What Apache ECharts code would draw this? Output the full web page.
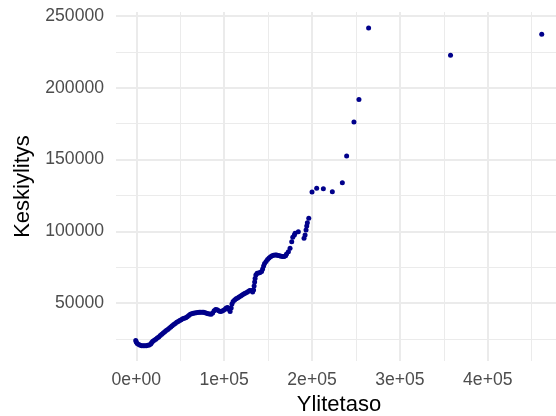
<!DOCTYPE html>
<html>
<head>
<meta charset="utf-8">
<script src="https://cdn.jsdelivr.net/npm/echarts@6/dist/echarts.min.js"></script>
<style>
  html, body { margin: 0; padding: 0; background: #ffffff; overflow: hidden; }
  /* the plot panel runs a little past the right edge of the page */
  #chart { width: 562px; height: 416px; }
</style>
</head>
<body>
<div id="chart"></div>
<script>
// Threshold level (x) and mean excess (y)
const ylitetaso = [
  -600, 0, 1100, 2800, 4500, 6300, 8000, 9700, 11400, 13100,
  14800, 16500, 17600, 18800, 20500, 22200, 23900, 25600, 27300, 29000,
  30700, 32400, 34100, 35800, 37500, 39200, 40900, 42600, 44300, 46000,
  47700, 49400, 51100, 52800, 54500, 56300, 58000, 59700, 61400, 63100,
  64800, 66500, 68200, 69900, 71600, 73300, 75000, 76700, 78400, 80100,
  81800, 83500, 85200, 86900, 88600, 90300, 92000, 93800, 95500, 97200,
  98900, 100600, 102300, 104000, 105700, 106800, 108000, 108900, 110200, 111900,
  113600, 115300, 117000, 118800, 120500, 122200, 123900, 125600, 127300, 129000,
  130700, 132400, 133500, 134100, 134700, 135200, 136100, 137500, 139200, 140900,
  142600, 143800, 144900, 146000, 147700, 149400, 151100, 152800, 154600, 156300,
  158000, 159700, 161400, 163100, 164800, 166500, 168200, 169900, 171000, 173100,
  175000, 176900, 178100, 179900, 180700, 184400, 190900, 192100, 193200, 194000,
  194700, 196300, 200000, 205300, 212900, 223100, 234500, 239400, 247700, 253400,
  264400, 357600, 461400
];
const keskiylitys = [
  23900, 22800, 21800, 21100, 20500, 20200, 20200, 20200, 20300, 20500,
  20700, 21400, 22500, 23300, 24000, 24700, 25600, 26400, 27400, 28200,
  29100, 29900, 30800, 31600, 32400, 33300, 34100, 35000, 35800, 36600,
  37200, 37900, 38400, 39000, 39400, 39800, 40400, 41300, 42100, 42600,
  42900, 43100, 43200, 43400, 43500, 43500, 43600, 43500, 43200, 42900,
  42600, 42300, 42100, 43000, 44600, 45500, 45300, 44600, 44100, 44300,
  44800, 45500, 46500, 46900, 45500, 44100, 46500, 49300, 51000, 52100,
  52900, 53500, 54200, 54900, 55600, 56300, 56800, 57300, 58000, 58700,
  58700, 57700, 59100, 61800, 64600, 67100, 69500, 70700, 70900, 71300,
  72000, 73700, 75800, 77500, 78900, 80300, 81400, 82200, 82900, 83300,
  83500, 83500, 83200, 82900, 82600, 82400, 82400, 82900, 84200, 85800,
  88100, 92700, 95800, 97400, 98700, 99700, 95100, 97400, 100900, 103700,
  106000, 109000, 127400, 129900, 129700, 127600, 133900, 152400, 176100, 191900,
  241600, 222600, 237300
];

// Axis ticks and their labels
const xTickValues = [0, 100000, 200000, 300000, 400000];
const xTickLabels = ['0e+00', '1e+05', '2e+05', '3e+05', '4e+05'];
const xMinorValues = [50000, 150000, 250000, 350000, 450000];
const yTickValues = [50000, 100000, 150000, 200000, 250000];
const yTickLabels = ['50000', '100000', '150000', '200000', '250000'];
const yMinorValues = [25000, 75000, 125000, 175000, 225000];

const X_MIN = -23070, X_MAX = 484470;
const Y_MIN = 9600, Y_MAX = 252800;

const FONT = 'Liberation Sans, Arial, Helvetica, sans-serif';
const GRID_COLOR = '#EBEBEB';

const points = ylitetaso.map((x, i) => [x, keskiylitys[i]]);

function hiddenAxisParts() {
  return {
    axisLine: { show: false },
    axisPointer: { show: false }
  };
}

const chart = echarts.init(document.getElementById('chart'), null, { renderer: 'canvas' });
chart.setOption({
  animation: false,
  backgroundColor: '#ffffff',
  grid: {
    left: 116, right: 0, top: 12, bottom: 55,
    containLabel: false, outerBoundsMode: 'none'
  },
  xAxis: [
    Object.assign(hiddenAxisParts(), {
      type: 'value', min: X_MIN, max: X_MAX, position: 'bottom',
      axisTick: { show: false, customValues: xTickValues },
      axisLabel: {
        customValues: xTickValues,
        formatter: v => xTickLabels[xTickValues.indexOf(v)],
        color: '#4D4D4D', fontSize: 17.6, fontFamily: FONT, margin: 10
      },
      splitLine: { show: true, lineStyle: { color: GRID_COLOR, width: 2 } },
      name: 'Ylitetaso', nameLocation: 'middle', nameGap: 30,
      nameTextStyle: { color: '#000000', fontSize: 22, fontFamily: FONT }
    }),
    Object.assign(hiddenAxisParts(), {
      type: 'value', min: X_MIN, max: X_MAX, position: 'bottom',
      axisTick: { show: false, customValues: xMinorValues },
      axisLabel: { show: false, customValues: xMinorValues },
      splitLine: { show: true, lineStyle: { color: GRID_COLOR, width: 1 } }
    })
  ],
  yAxis: [
    Object.assign(hiddenAxisParts(), {
      type: 'value', min: Y_MIN, max: Y_MAX, position: 'left',
      axisTick: { show: false, customValues: yTickValues },
      axisLabel: {
        customValues: yTickValues,
        formatter: v => yTickLabels[yTickValues.indexOf(v)],
        color: '#4D4D4D', fontSize: 17.6, fontFamily: FONT, margin: 12
      },
      splitLine: { show: true, lineStyle: { color: GRID_COLOR, width: 2 } },
      name: 'Keskiylitys', nameLocation: 'middle', nameGap: 81,
      nameTextStyle: { color: '#000000', fontSize: 22, fontFamily: FONT }
    }),
    Object.assign(hiddenAxisParts(), {
      type: 'value', min: Y_MIN, max: Y_MAX, position: 'left',
      axisTick: { show: false, customValues: yMinorValues },
      axisLabel: { show: false, customValues: yMinorValues },
      splitLine: { show: true, lineStyle: { color: GRID_COLOR, width: 1 } }
    })
  ],
  series: [{
    type: 'scatter',
    xAxisIndex: 0,
    yAxisIndex: 0,
    data: points,
    symbol: 'circle',
    symbolSize: 5,
    itemStyle: { color: '#00008B', opacity: 1 },
    silent: true
  }]
});
</script>
</body>
</html>
